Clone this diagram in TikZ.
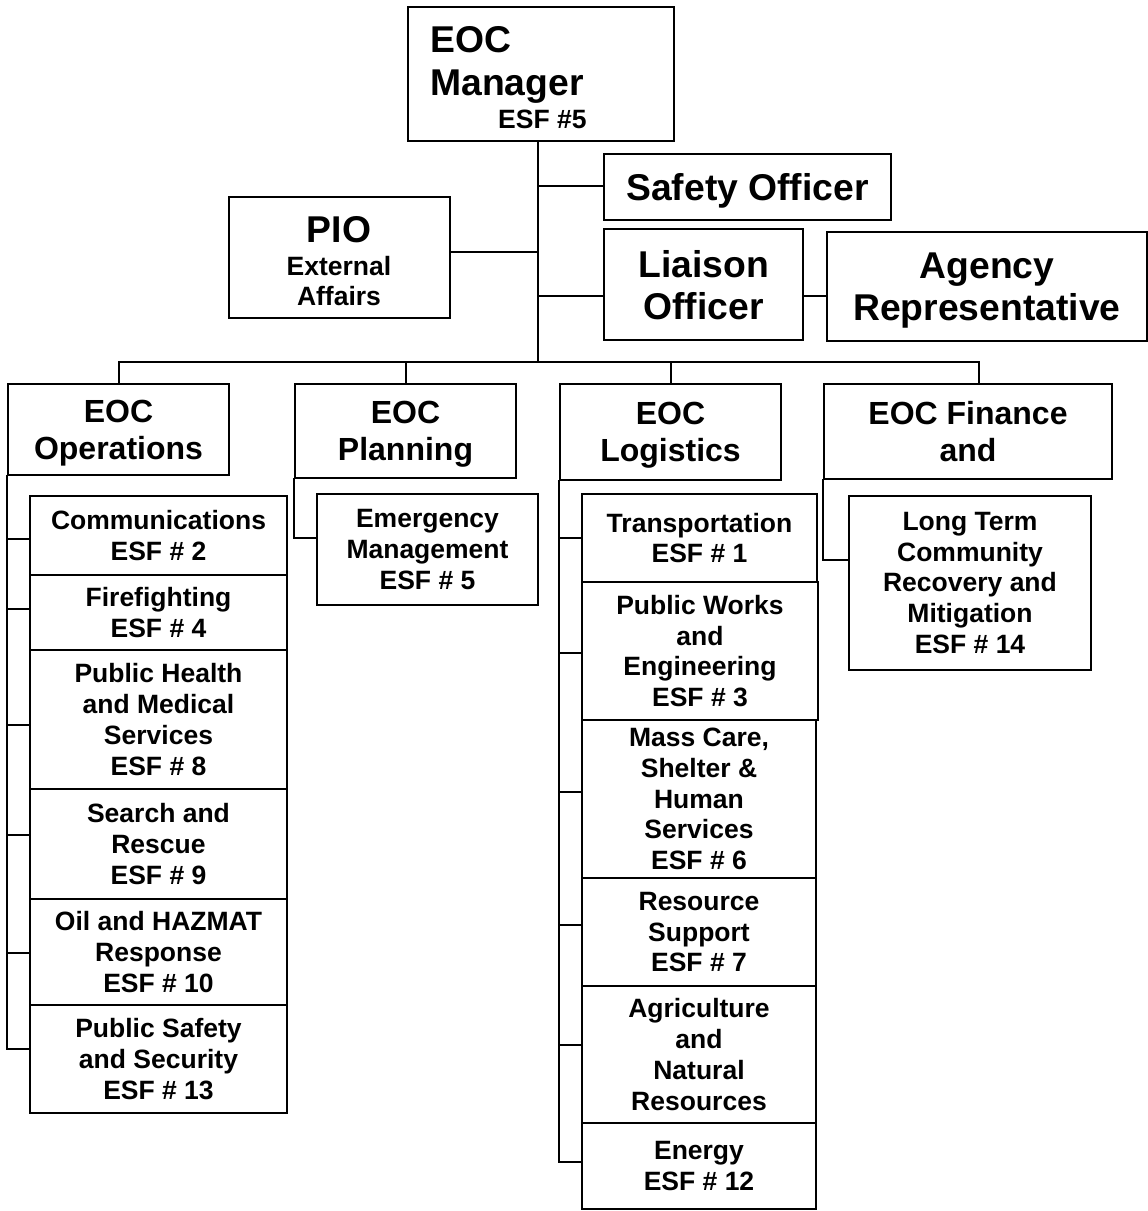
\documentclass[tikz,border=0pt]{standalone}
\usepackage{fontspec}
\setmainfont{Liberation Sans}
\usetikzlibrary{calc}
\tikzset{
  box/.style={draw, line width=2pt, inner sep=0pt, align=center,
    font=\bfseries\fontsize{26.5}{30.7}\selectfont},
  big/.style={font=\bfseries\fontsize{37.3}{42}\selectfont, text depth=0pt},
  mid/.style={font=\bfseries\fontsize{32}{37}\selectfont, text depth=0pt},
  conn/.style={line width=2pt, line cap=rect},
  lbl/.style={inner sep=0pt, anchor=base},
}
\newcommand{\ebox}[7][]{%
  \pgfmathsetmacro\ebcx{(#3+#5)/2}%
  \pgfmathsetmacro\ebcy{(#4+#6)/2}%
  \pgfmathsetmacro\ebw{#5-#3}%
  \pgfmathsetmacro\ebh{#6-#4}%
  \node[box,#1,minimum width=\ebw pt,minimum height=\ebh pt] (#2) at (\ebcx,\ebcy) {#7};}
\begin{document}
\begin{tikzpicture}[x=1pt,y=-1pt]
\fill[white] (0,0) rectangle (1148,1211);
\useasboundingbox (0,0) rectangle (1148,1211);
% top level
\ebox{mgr}{408}{7}{674}{141}{}
\node[lbl,anchor=base west,big] (mgrA) at (430,52) {EOC};
\node[lbl,anchor=base west,big] (mgrB) at (430,95) {Manager};
\node[lbl,anchor=base west] (mgrC) at (498,128) {\bfseries\fontsize{26.5}{30}\selectfont ESF \#5};
\ebox[big]{safety}{604}{154}{891}{220}{Safety Officer}
\ebox{pio}{229}{197}{450}{318}{}
\node[lbl,big] (pioA) at (339,242) {PIO};
\node[lbl] (pioB) at (339,275) {\bfseries\fontsize{26.5}{30}\selectfont External};
\node[lbl] (pioC) at (339,305) {\bfseries\fontsize{26.5}{30}\selectfont Affairs};
\ebox[big]{liaison}{604}{229}{803}{340}{Liaison\\Officer}
\ebox[big]{agency}{827}{232}{1147}{341}{Agency\\Representative}
% second level
\ebox[mid]{ops}{8}{384}{229}{475}{EOC\\Operations}
\ebox[mid]{plan}{295}{384}{516}{478}{EOC\\Planning}
\ebox[mid]{log}{560}{384}{781}{480}{EOC\\Logistics}
\ebox[mid]{fin}{824}{384}{1112}{479}{EOC Finance\\and}
% operations children
\ebox{comm}{30}{496}{287}{575}{Communications\\ESF \# 2}
\ebox{fire}{30}{575}{287}{650}{Firefighting\\ESF \# 4}
\ebox{ph}{30}{650}{287}{789}{Public Health\\and Medical\\Services\\ESF \# 8}
\ebox{sar}{30}{789}{287}{899}{Search and\\Rescue\\ESF \# 9}
\ebox{oil}{30}{899}{287}{1005}{Oil and HAZMAT\\Response\\ESF \# 10}
\ebox{pss}{30}{1005}{287}{1113}{Public Safety\\and Security\\ESF \# 13}
% planning child
\ebox{emg}{317}{494}{538}{605}{Emergency\\Management\\ESF \# 5}
% logistics children
\ebox{tr}{582}{494}{817}{582}{Transportation\\ESF \# 1}
\ebox{pw}{582}{582}{818}{720}{Public Works\\and\\Engineering\\ESF \# 3}
\ebox{mc}{582}{720}{816}{878}{Mass Care,\\Shelter \&\\Human\\Services\\ESF \# 6}
\ebox{rs}{582}{878}{816}{986}{Resource\\Support\\ESF \# 7}
\ebox{ag}{582}{986}{816}{1123}{Agriculture\\and\\Natural\\Resources}
\ebox{en}{582}{1123}{816}{1209}{Energy\\ESF \# 12}
% finance child
\ebox{lt}{849}{496}{1091}{670}{Long Term\\Community\\Recovery and\\Mitigation\\ESF \# 14}
% connector coordinates
\coordinate (spine) at (538,362);
\coordinate (finjoin) at (979,362);
\coordinate (ys) at (0,186);
\coordinate (yp) at (0,252);
\coordinate (yl) at (0,296);
% top connectors
\draw[conn] (mgr.south -| spine) -- (spine);
\draw[conn] (safety.west |- ys) -- (spine |- ys);
\draw[conn] (pio.east |- yp) -- (spine |- yp);
\draw[conn] (liaison.west |- yl) -- (spine |- yl);
\draw[conn] (liaison.east |- yl) -- (agency.west |- yl);
% level bar
\draw[conn] (ops.north |- spine) -- (finjoin);
\draw[conn] (ops.north |- spine) -- (ops.north);
\draw[conn] (plan.north |- spine) -- (plan.north);
\draw[conn] (log.north |- spine) -- (log.north);
\draw[conn] (finjoin) -- (finjoin |- fin.north);
% operations children
\foreach \n/\y in {comm/539, fire/609, ph/725, sar/835, oil/953, pss/1049}{
  \coordinate (tmp) at (0,\y);
  \draw[conn] (ops.south west |- tmp) -- (\n.west |- tmp);}
\coordinate (opsend) at (0,1049);
\draw[conn] (ops.south west) -- (ops.south west |- opsend);
% planning child
\coordinate (plany) at (0,538);
\draw[conn] (plan.south west) |- (emg.west |- plany);
% logistics children
\foreach \n/\y in {tr/538, pw/653, mc/792, rs/925, ag/1045, en/1162}{
  \coordinate (tmp) at (0,\y);
  \draw[conn] (log.south west |- tmp) -- (\n.west |- tmp);}
\coordinate (logend) at (0,1162);
\draw[conn] (log.south west) -- (log.south west |- logend);
% finance child
\coordinate (finy) at (0,560);
\draw[conn] (fin.south west) |- (lt.west |- finy);
\end{tikzpicture}
\end{document}
